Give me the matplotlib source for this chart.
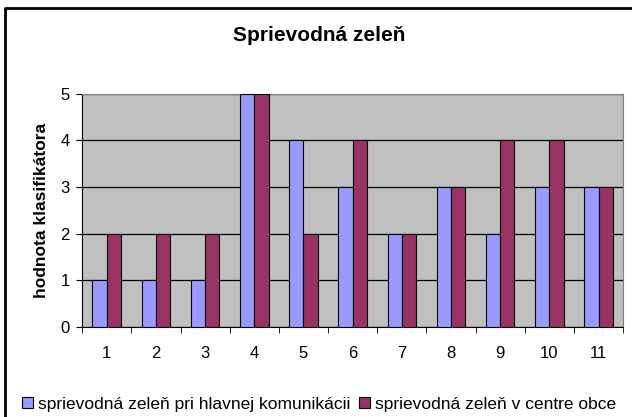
import matplotlib.pyplot as plt
import numpy as np
from matplotlib.lines import Line2D

categories = ["1", "2", "3", "4", "5", "6", "7", "8", "9", "10", "11"]
hlavna = [1, 1, 1, 5, 4, 3, 2, 3, 2, 3, 3]
centrum = [2, 2, 2, 5, 2, 4, 2, 3, 4, 4, 3]
labels = ["sprievodná zeleň pri hlavnej komunikácii", "sprievodná zeleň v centre obce"]

plt.rcParams['font.family'] = ['Liberation Sans', 'DejaVu Sans']

fig = plt.figure(figsize=(6.32, 4.17), dpi=100)
# chart frame: only top and left edges are visible (the picture is cropped)
fig.lines.append(Line2D([0.008, 0.008, 1.0], [0.0, 0.982, 0.982], transform=fig.transFigure,
                        color="black", linewidth=2))

ax = fig.add_axes([0.130, 0.216, 0.856, 0.559])
ax.set_facecolor("#C0C0C0")

x = np.arange(len(categories))
w = 0.29
ax.bar(x - w / 2, hlavna, w, color="#9999FF", edgecolor="black", linewidth=0.8,
       label=labels[0], zorder=3)
ax.bar(x + w / 2, centrum, w, color="#993366", edgecolor="black", linewidth=0.8,
       label=labels[1], zorder=3)

ax.set_xlim(-0.5, len(categories) - 0.5)
ax.set_ylim(0, 5)
ax.set_yticks(range(6))
ax.set_xticks(x)
ax.set_xticklabels(categories)
ax.set_xticks(np.arange(len(categories) + 1) - 0.5, minor=True)
ax.tick_params(axis="x", which="major", length=0, pad=14, labelsize=12)
ax.tick_params(axis="x", which="minor", length=4, direction="out")
ax.tick_params(axis="y", length=4, labelsize=12, pad=5)
ax.grid(axis="y", color="black", linewidth=0.9, zorder=1)
for s in ["top", "right"]:
    ax.spines[s].set_color("#808080")
ax.spines["left"].set_color("black")
ax.spines["bottom"].set_color("black")

ax.set_ylabel("hodnota klasifikátora", fontsize=12.5, fontweight="bold", labelpad=8)
fig.text(0.505, 0.915, "Sprievodná zeleň", ha="center", va="center",
         fontsize=15, fontweight="bold")

fig.legend(loc="center", bbox_to_anchor=(0.505, 0.03), ncol=2, frameon=False,
           fontsize=12.5, handlelength=0.6, handleheight=0.6, handletextpad=0.3,
           columnspacing=0.5)

fig.savefig("out.png", dpi=100)
